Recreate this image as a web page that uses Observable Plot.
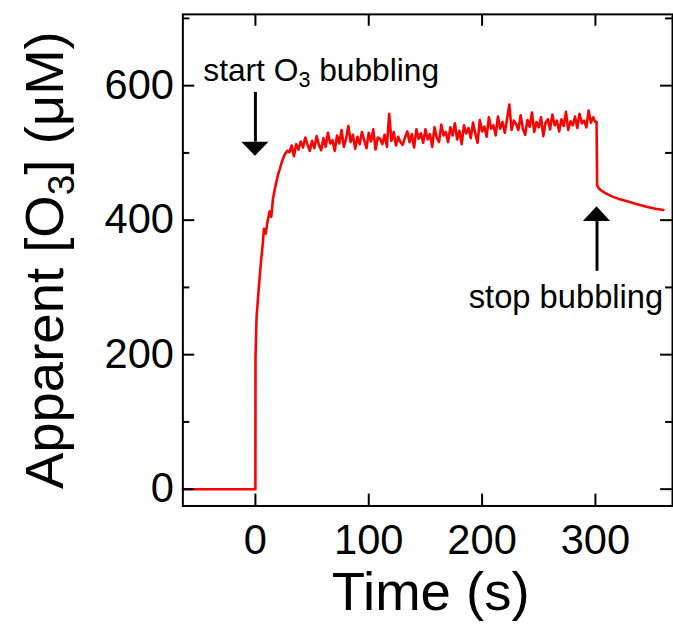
<!DOCTYPE html>
<html>
<head>
<meta charset="utf-8">
<script src="https://cdn.jsdelivr.net/npm/d3@7"></script>
<script src="https://cdn.jsdelivr.net/npm/@observablehq/plot@0.6"></script>
<style>
html, body { margin: 0; padding: 0; background: #fff; overflow: hidden; }
#chart { width: 673px; height: 628px; overflow: hidden; }
</style>
</head>
<body>
<div id="chart"></div>
<script>
// ---- data ----
const baselineTime = [-64, 0];
const baselineValue = [0, 0];

const riseTime  = [0.1, 1, 3, 5, 6.5, 7.5, 9, 10.5, 12.5, 14, 15.5, 17, 18.5, 20, 21.5, 23, 24.5, 26, 28];
const riseValue = [196, 255, 300, 340, 365, 387, 380, 396, 413, 405, 432, 445, 457, 468, 476, 485, 492, 498, 503];

// plateau sampled every 2 s from t = 30 s to t = 300 s
const plateauStart = 30;
const plateauStep = 2;
const plateauValue = [
  501, 511, 495, 513, 505, 517, 508, 523, 512, 503,
  518, 507, 525, 512, 504, 522, 509, 530, 514, 519,
  503, 526, 514, 534, 509, 521, 540, 516, 527, 506,
  524, 513, 531, 519, 507, 530, 517, 535, 505, 523,
  521, 513, 527, 509, 558, 518, 531, 511, 524, 516,
  512, 523, 532, 516, 528, 508, 535, 521, 529, 515,
  535, 520, 528, 509, 538, 523, 516, 542, 526, 531,
  516, 538, 526, 544, 520, 533, 513, 541, 529, 537,
  522, 545, 529, 515, 549, 532, 539, 524, 553, 536,
  541, 526, 554, 536, 546, 530, 550, 572, 534, 548,
  543, 534, 556, 536, 527, 549, 539, 560, 531, 546,
  538, 553, 525, 545, 550, 535, 557, 541, 548, 532,
  550, 540, 561, 534, 547, 541, 554, 537, 558, 544,
  548, 538, 563, 545, 553, 546
];

const decayTime  = [301, 301.5, 303, 306, 310, 315, 320, 328, 336, 345, 353, 360];
const decayValue = [546, 452, 447, 443, 439, 435, 432, 428, 424, 420, 417, 415];

// axes
const xTicks = [0, 100, 200, 300];
const yTicks = [0, 200, 400, 600];
const yMinorTicks = [100, 300, 500, 700];
const xLabel = "Time (s)";
const yLabel = "Apparent [O₃] (μM)";

// annotations
const startText = "start O₃ bubbling";
const startTime = -46;
const startValue = 607;
const stopText = "stop bubbling";
const stopTime = 274;
const stopValue = 270;

const arrowTime = [0, 301.4];
const arrowTail = [590, 324];
const arrowBase = [516, 398];
const arrowTip  = [495, 420];
const arrowHalfWidth = 12;

// ---- build table ----
const series = [];
baselineTime.forEach((t, i) => series.push({t, v: baselineValue[i]}));
riseTime.forEach((t, i) => series.push({t, v: riseValue[i]}));
plateauValue.forEach((v, i) => series.push({t: plateauStart + i * plateauStep, v}));
decayTime.forEach((t, i) => series.push({t, v: decayValue[i]}));

const arrowIdx = arrowTime.map((_, i) => i);
const headRows = arrowTime.flatMap((t, i) => [
  {id: i, t: t - arrowHalfWidth, lo: arrowBase[i], hi: arrowBase[i]},
  {id: i, t: t, lo: arrowBase[i], hi: arrowTip[i]},
  {id: i, t: t + arrowHalfWidth, lo: arrowBase[i], hi: arrowBase[i]}
]);

const W = 679, H = 628, mL = 184, mR = 1, mT = 14, mB = 118;
const fw = W - mL - mR;
const fh = H - mT - mB;

const plot = Plot.plot({
  width: W, height: H,
  marginLeft: mL, marginRight: mR, marginTop: mT, marginBottom: mB,
  style: {fontFamily: "'Liberation Sans', Arial, Helvetica, sans-serif", background: "white", color: "black", overflow: "hidden"},
  x: {domain: [-64, 368]},
  y: {domain: [-25, 706]},
  marks: [
    Plot.line(series, {x: "t", y: "v", stroke: "#ff0000", strokeWidth: 2.6}),
    Plot.ruleX(xTicks, {x: d => d, insetTop: fh - 12, strokeWidth: 2}),
    Plot.ruleX(xTicks, {x: d => d, insetBottom: fh - 12, strokeWidth: 2}),
    Plot.ruleY(yTicks, {y: d => d, insetRight: fw - 12, strokeWidth: 2}),
    Plot.ruleY(yTicks, {y: d => d, insetLeft: fw - 12, strokeWidth: 2}),
    Plot.ruleY(yMinorTicks, {y: d => d, insetRight: fw - 7, strokeWidth: 2}),
    Plot.ruleY(yMinorTicks, {y: d => d, insetLeft: fw - 7, strokeWidth: 2}),
    Plot.frame({strokeWidth: 2}),
    Plot.axisX(xTicks, {tickSize: 0, tickPadding: 19, fontSize: 42, label: null}),
    Plot.axisY(yTicks, {tickSize: 0, tickPadding: 9, fontSize: 42, label: null}),
    Plot.text([xLabel], {text: d => d, frameAnchor: "bottom", dx: 3, dy: 105, lineAnchor: "bottom", textAnchor: "middle", fontSize: 55}),
    Plot.text([yLabel], {text: d => d, frameAnchor: "left", dx: -121, rotate: -90, lineAnchor: "bottom", textAnchor: "middle", fontSize: 55}),
    Plot.ruleX(arrowIdx, {x: i => arrowTime[i], y1: i => arrowTail[i], y2: i => arrowBase[i], strokeWidth: 3}),
    Plot.areaY(headRows, {x: "t", y1: "lo", y2: "hi", z: "id", fill: "black"}),
    Plot.text([startText], {x: startTime, y: startValue, text: d => d, textAnchor: "start", lineAnchor: "bottom", fontSize: 32}),
    Plot.text([stopText], {x: stopTime, y: stopValue, text: d => d, textAnchor: "middle", lineAnchor: "bottom", fontSize: 33})
  ]
});

document.getElementById("chart").append(plot);

// render the "3" of O3 as a real subscript
d3.select(plot).selectAll("text").each(function() {
  if (!this.textContent.includes("₃")) return;
  const fs = parseFloat(getComputedStyle(this).fontSize);
  const parts = this.textContent.split("₃");
  this.textContent = "";
  const sel = d3.select(this);
  sel.append("tspan").text(parts[0]);
  sel.append("tspan").attr("font-size", fs * 0.68).attr("dy", fs * 0.2).text("3");
  sel.append("tspan").attr("dy", -fs * 0.2).text(parts[1]);
});
</script>
</body>
</html>
